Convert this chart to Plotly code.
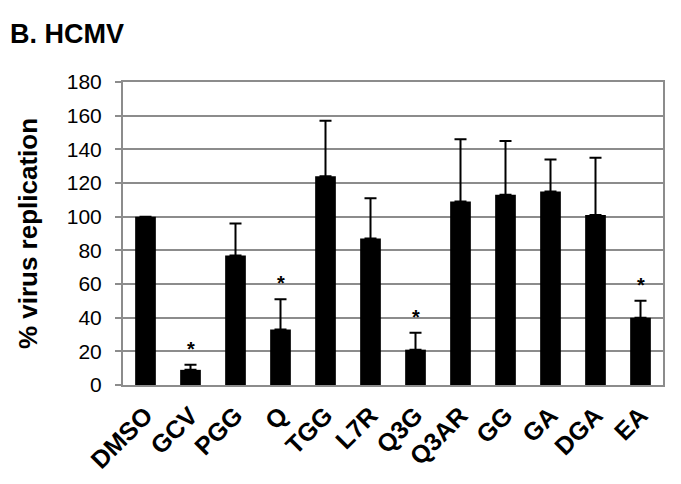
import plotly.graph_objects as go

# values
categories = ["DMSO", "GCV", "PGG", "Q", "TGG", "L7R", "Q3G", "Q3AR", "GG", "GA", "DGA", "EA"]
replication = [100, 9, 77, 33, 124, 87, 21, 109, 113, 115, 101, 40]
error_plus = [0, 3, 19, 18, 33, 24, 10, 37, 32, 19, 34, 10]
significant = [False, True, False, True, False, False, True, False, False, False, False, True]
y_ticks = [0, 20, 40, 60, 80, 100, 120, 140, 160, 180]

FONT = "Liberation Sans, Arial, sans-serif"
GRID = "#8c8c8c"

fig = go.Figure(
    go.Bar(
        x=categories,
        y=replication,
        width=0.46,
        marker=dict(color="black", line=dict(width=0)),
        error_y=dict(type="data", symmetric=False, array=error_plus,
                     arrayminus=[0] * len(categories),
                     color="black", thickness=2, width=6),
    )
)

# asterisks above the significant bars
for cat, val, err, sig in zip(categories, replication, error_plus, significant):
    if sig:
        fig.add_annotation(x=cat, y=val + err, yshift=16, text="<b>*</b>",
                           showarrow=False, font=dict(family=FONT, size=20, color="black"))

# panel label
fig.add_annotation(xref="paper", yref="paper", x=-0.213, y=1.16,
                   xanchor="left", yanchor="middle",
                   text="<b>B. HCMV</b>", showarrow=False,
                   font=dict(family=FONT, size=27, color="black"))

# the page body adds 8px, margins compensate for it
fig.update_layout(
    width=681, height=484,
    margin=dict(l=115, r=26, t=74, b=107),
    plot_bgcolor="white", paper_bgcolor="white",
    showlegend=False,
    font=dict(family=FONT, color="black"),
)
fig.update_xaxes(
    tickangle=-45,
    tickfont=dict(family=FONT, size=25, color="black"),
    tickprefix="<b>", ticksuffix="</b>",
    ticklabelstandoff=4,
    showline=True, linecolor=GRID, linewidth=2, mirror=True,
    ticks="", showgrid=False,
)
fig.update_yaxes(
    range=[0, 180], tickvals=y_ticks,
    tickfont=dict(family=FONT, size=21, color="black"),
    tickprefix="<b>", ticksuffix="</b>",
    ticklabelstandoff=9,
    showgrid=True, gridcolor=GRID, gridwidth=2,
    showline=True, linecolor=GRID, linewidth=2, mirror=True,
    ticks="outside", ticklen=6, tickcolor=GRID, tickwidth=2,
    zeroline=False,
    title=dict(text="<b>% virus replication</b>",
               font=dict(family=FONT, size=26, color="black"), standoff=22),
)

fig.write_html("out.html")
